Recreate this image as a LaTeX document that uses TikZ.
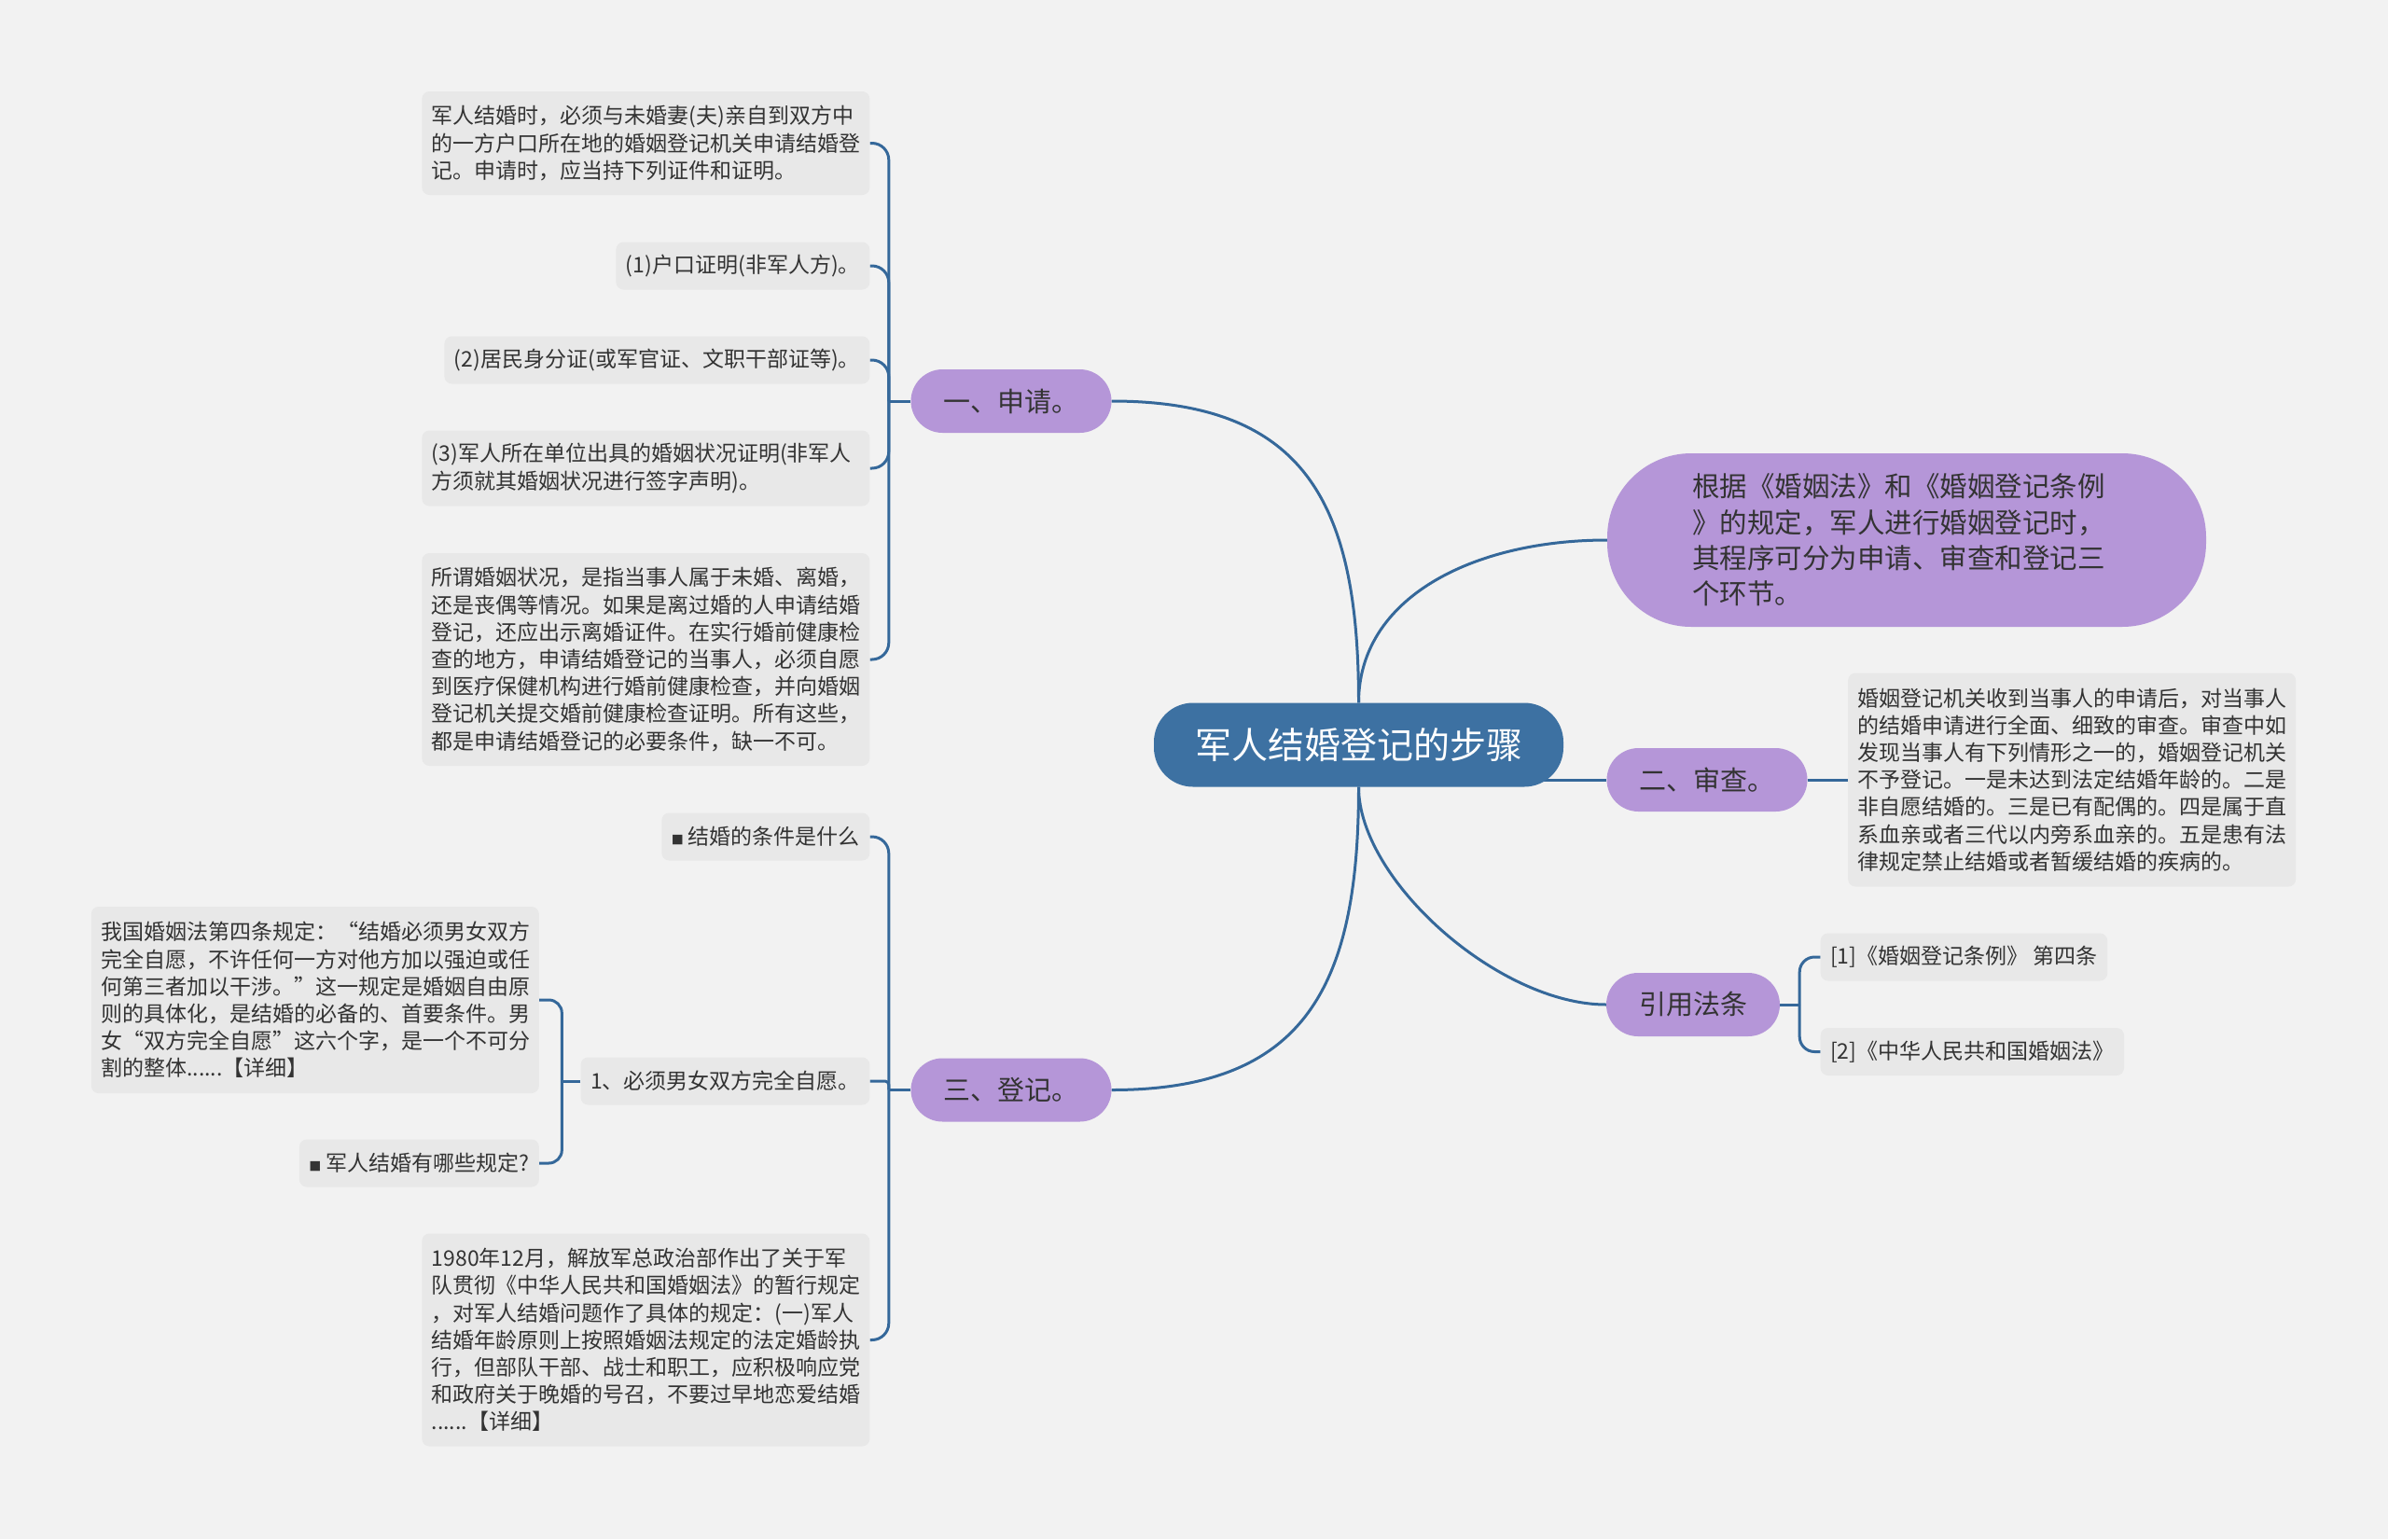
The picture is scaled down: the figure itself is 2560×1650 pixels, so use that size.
\documentclass[tikz,border=0pt]{standalone}
\usepackage{fontspec}
\setmainfont{Noto Sans CJK SC}
\usetikzlibrary{backgrounds}
\definecolor{canvasgray}{HTML}{F2F2F2}
\definecolor{leafgray}{HTML}{E8E8E8}
\definecolor{rootblue}{HTML}{3D71A2}
\definecolor{topicpurple}{HTML}{B596D8}
\definecolor{linkblue}{HTML}{35689A}
\definecolor{inktext}{HTML}{333333}
\tikzset{
  rootbox/.style={fill=rootblue, text=white, rounded corners=42pt, minimum height=90pt, inner xsep=44pt, inner ysep=0pt, font=\fontsize{39}{47}\selectfont},
  topicbox/.style={fill=topicpurple, text=inktext, rounded corners=34pt, minimum height=68pt, inner xsep=35pt, inner ysep=0pt, font=\fontsize{29}{35}\selectfont},
  leafbox/.style={fill=leafgray, text=inktext, rounded corners=8pt, minimum height=51pt, inner xsep=10.5pt, inner ysep=0pt, align=left, font=\fontsize{23}{29.2}\selectfont},
  wideleaf/.style={leafbox, text width=459pt},
  link/.style={draw=linkblue, line width=3pt},
}
\newcommand{\sqbullet}{{\fontsize{13}{13}\selectfont ■}\hspace{5pt}}
\begin{document}
\begin{tikzpicture}[x=1pt, y=-1pt]
\useasboundingbox (0,0) rectangle (2560,1650);
\node[rootbox] (root) at (1456.5,798.5) {军人结婚登记的步骤};
\node[topicbox] (apply) at (1084,430) {一、申请。};
\node[topicbox] (register) at (1084,1168.5) {三、登记。};
\node[topicbox] (review) at (1830,836) {二、审查。};
\node[topicbox] (law) at (1815,1077) {引用法条};
\node[topicbox, rounded corners=90pt, minimum height=186pt, inner xsep=91pt, align=left, text width=460pt, font=\fontsize{29.5}{38.3}\selectfont] (basis) at (2044,579) {根据《婚姻法》和《婚姻登记条例\\》的规定，军人进行婚姻登记时，\\其程序可分为申请、审查和登记三\\个环节。};
% 申请
\node[wideleaf, anchor=east, minimum height=111pt] (a1) at (932.5,153.5) {军人结婚时，必须与未婚妻(夫)亲自到双方中\\的一方户口所在地的婚姻登记机关申请结婚登\\记。申请时，应当持下列证件和证明。};
\node[leafbox, anchor=east] (a2) at (932.5,285) {(1)户口证明(非军人方)。};
\node[leafbox, anchor=east] (a3) at (932.5,386) {(2)居民身分证(或军官证、文职干部证等)。};
\node[wideleaf, anchor=east, minimum height=81pt] (a4) at (932.5,502) {(3)军人所在单位出具的婚姻状况证明(非军人\\方须就其婚姻状况进行签字声明)。};
\node[wideleaf, anchor=east, minimum height=228pt] (a5) at (932.5,707) {所谓婚姻状况，是指当事人属于未婚、离婚，\\还是丧偶等情况。如果是离过婚的人申请结婚\\登记，还应出示离婚证件。在实行婚前健康检\\查的地方，申请结婚登记的当事人，必须自愿\\到医疗保健机构进行婚前健康检查，并向婚姻\\登记机关提交婚前健康检查证明。所有这些，\\都是申请结婚登记的必要条件，缺一不可。};
% 审查
\node[wideleaf, anchor=west, minimum height=229pt] (b1) at (1981,836) {婚姻登记机关收到当事人的申请后，对当事人\\的结婚申请进行全面、细致的审查。审查中如\\发现当事人有下列情形之一的，婚姻登记机关\\不予登记。一是未达到法定结婚年龄的。二是\\非自愿结婚的。三是已有配偶的。四是属于直\\系血亲或者三代以内旁系血亲的。五是患有法\\律规定禁止结婚或者暂缓结婚的疾病的。};
% 引用法条
\node[leafbox, anchor=west] (ref1) at (1951.5,1026) {[1]《婚姻登记条例》 第四条};
\node[leafbox, anchor=west] (ref2) at (1951.5,1127.5) {[2]《中华人民共和国婚姻法》};
% 登记
\node[leafbox, anchor=east] (c1) at (932.5,897) {\sqbullet 结婚的条件是什么};
\node[leafbox, anchor=east] (c2) at (932.5,1159) {1、必须男女双方完全自愿。};
\node[wideleaf, anchor=east, minimum height=228pt] (c3) at (932.5,1436.5) {1980年12月，解放军总政治部作出了关于军\\队贯彻《中华人民共和国婚姻法》的暂行规定\\，对军人结婚问题作了具体的规定：(一)军人\\结婚年龄原则上按照婚姻法规定的法定婚龄执\\行，但部队干部、战士和职工，应积极响应党\\和政府关于晚婚的号召，不要过早地恋爱结婚\\......【详细】};
\node[wideleaf, anchor=east, minimum height=200pt] (c2a) at (578,1072) {我国婚姻法第四条规定：“结婚必须男女双方\\完全自愿，不许任何一方对他方加以强迫或任\\何第三者加以干涉。”这一规定是婚姻自由原\\则的具体化，是结婚的必备的、首要条件。男\\女“双方完全自愿”这六个字，是一个不可分\\割的整体......【详细】};
\node[leafbox, anchor=east] (c2b) at (578,1247) {\sqbullet 军人结婚有哪些规定?};
\begin{scope}[on background layer]
\fill[canvasgray] (0,0) rectangle (2560,1650);
\draw[link] (root.north) .. controls +(0,-213) and +(208,0) .. (apply.east);
\draw[link] (root.north) .. controls +(0,-113) and +(-143,0) .. (basis.west);
\draw[link] (root.center |- review.west) -- (review.west);
\draw[link] (root.south) .. controls +(0,100) and +(-115,0) .. (law.west);
\draw[link] (root.south) .. controls +(0,213) and +(208,0) .. (register.east);
\draw[link] (review.east) -- (b1.west);
\draw[link] (apply.west) -- ++(-23.5,0) coordinate (apply-fork);
\foreach \leaf in {a1,a2,a3,a4,a5}
  \draw[link, rounded corners=18pt] (apply-fork) |- (\leaf.east);
\draw[link] (register.west) -- ++(-23.5,0) coordinate (register-fork);
\foreach \leaf in {c1,c3}
  \draw[link, rounded corners=18pt] (register-fork) |- (\leaf.east);
\draw[link, rounded corners=4pt] (register-fork) |- (c2.east);
\draw[link] (c2.west) -- ++(-20,0) coordinate (c2-fork);
\foreach \leaf in {c2a,c2b}
  \draw[link, rounded corners=14pt] (c2-fork) |- (\leaf.east);
\draw[link] (law.east) -- ++(21,0) coordinate (law-fork);
\foreach \leaf in {ref1,ref2}
  \draw[link, rounded corners=16pt] (law-fork) |- (\leaf.west);
\end{scope}
\end{tikzpicture}
\end{document}
